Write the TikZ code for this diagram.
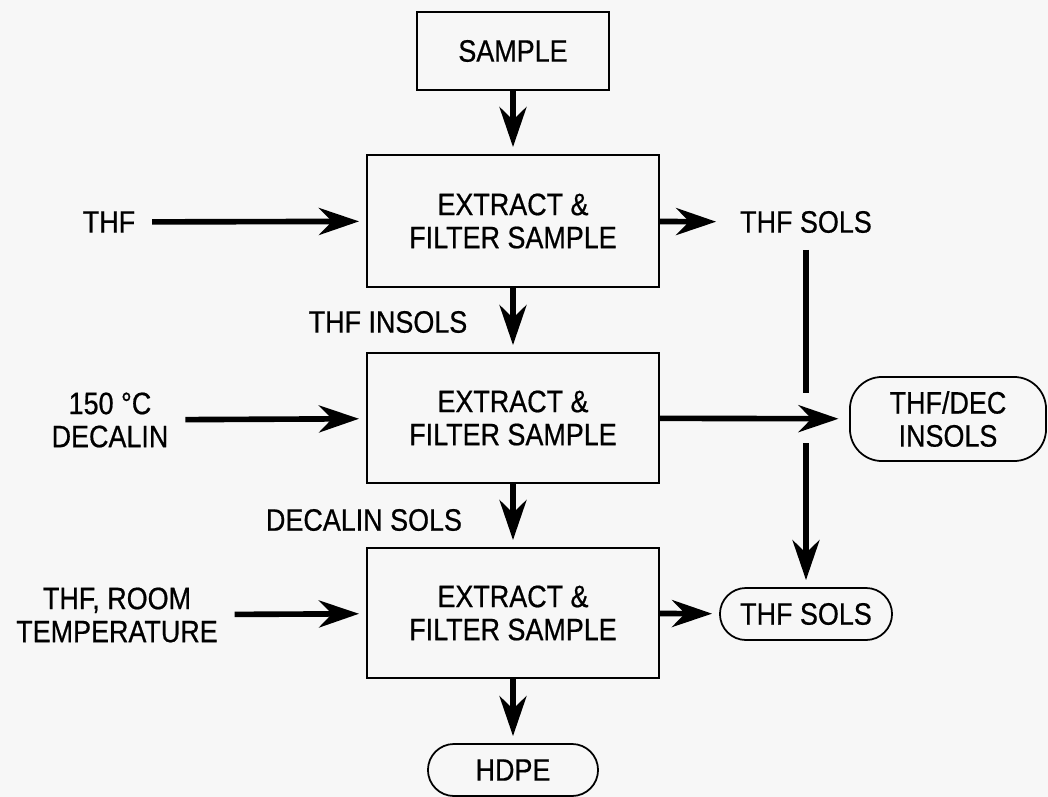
\documentclass[tikz,border=0pt]{standalone}
\usepackage{fontspec}
\setmainfont{Liberation Sans}[FakeStretch=0.87, FakeBold=0.6]
\usetikzlibrary{arrows.meta}
\definecolor{paper}{RGB}{247,247,247}
\tikzset{
  box/.style={draw, line width=0.5pt, minimum width=2.92cm, minimum height=1.32cm,
              align=center, inner sep=0pt},
  pill/.style={draw, line width=0.5pt, rounded corners=0.26cm, align=center, inner sep=0pt},
  feed/.style={align=center, inner sep=0pt, outer sep=0.17cm},
  flow/.style={line width=1.6pt, shorten >=2pt,
               -{Stealth[length=4mm, width=2.7mm, inset=1.3mm]}},
  pipe/.style={line width=1.6pt},
}
\begin{document}
\begin{tikzpicture}[x=0.01cm, y=-0.01cm, font=\fontsize{8.8}{9.4}\selectfont]
    \useasboundingbox (0,0) rectangle (1048,797);
    \fill[paper] (0,0) rectangle (1048,797);
    % main column
    \draw (513,  51) node [box, minimum width=1.92cm, minimum height=0.78cm] (sample) {SAMPLE}
          (513, 221) node [box] (ext1) {EXTRACT \&\\ FILTER SAMPLE}
          (513, 418) node [box, minimum height=1.30cm] (ext2) {EXTRACT \&\\ FILTER SAMPLE}
          (513, 613) node [box, minimum height=1.30cm] (ext3) {EXTRACT \&\\ FILTER SAMPLE}
          (513, 770) node [pill, minimum width=1.70cm, minimum height=0.52cm] (hdpe) {HDPE}
          (388, 322) node (insol) {THF INSOLS}
          (364, 520) node (decsol) {DECALIN SOLS}
    % solvents in
          (109, 222) node [feed] (thf) {THF}
          (110, 420) node [feed] (dec) {150 °C\\ DECALIN}
          (117, 615) node [feed] (room) {THF, ROOM\\ TEMPERATURE}
    % products out
          (806, 222) node [feed] (sols1) {THF SOLS}
          (948, 419) node [pill, rounded corners=0.32cm, minimum width=1.96cm, minimum height=0.84cm] (insols) {THF/DEC\\ INSOLS}
          (806, 614) node [pill, minimum width=1.72cm, minimum height=0.52cm] (sols2) {THF SOLS}
    (sample) edge [flow] (ext1)
    (ext1) edge [flow] (ext2)
           edge [flow] (sols1)
    (ext2) edge [flow] (ext3)
           edge [flow, shorten >=3pt] (insols)
    (ext3) edge [flow] (hdpe)
           edge [flow] (sols2)
    (thf) edge [flow] (ext1)
    (dec) edge [flow] (ext2)
    (room) edge [flow] (ext3);
    % line broken where it crosses
    \coordinate (gapa) at (806, 393);
    \coordinate (gapb) at (806, 443);
    \draw [pipe] (sols1.south) -- (gapa);
    \draw [flow] (gapb) -- (sols2.north);
\end{tikzpicture}
\end{document}
